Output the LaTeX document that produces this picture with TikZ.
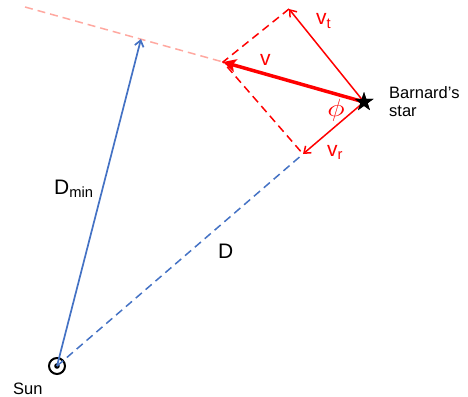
\documentclass[tikz,border=0pt]{standalone}
\usepackage{fontspec}
\setmainfont{Liberation Sans}
\usetikzlibrary{shapes.geometric, arrows.meta, positioning}
\definecolor{skyblue}{RGB}{68,114,196}
\definecolor{salmon}{RGB}{255,168,160}

\begin{document}
\begin{tikzpicture}[
    x=1pt, y=-1pt,
    bigfont/.style={font=\fontsize{21}{24}\selectfont, inner sep=0pt},
    smallfont/.style={font=\fontsize{16.5}{18}\selectfont, inner sep=0pt},
    sunmark/.style={circle, draw, line width=2pt, minimum size=16pt,
                    inner sep=0pt},
    starmark/.style={star, star points=5, star point ratio=2.6, fill=black,
                     minimum size=20pt, inner sep=0pt},
    thin/.style={-{Straight Barb[length=6pt, width=9pt]}, line width=1.5pt},
    fat/.style={-{Stealth[length=13pt, width=13pt, inset=3pt]},
                line width=3.5pt},
    dashline/.style={dash pattern=on 8pt off 5pt, line width=1.5pt}
  ]

  \useasboundingbox (0,0) rectangle (468,396);

  \node[sunmark]  (sun)  at (57,366) {};
  \fill (sun.center) circle (2.8pt);
  \node[starmark] (star) at (364,102) {};

  \coordinate (far)    at (25,7);
  \coordinate (vtip)   at (223,62);
  \coordinate (vttip)  at (289,9);
  \coordinate (vrtip)  at (303,154);
  \coordinate (dmtip)  at (141,39);

  % line of sight and closest approach
  \draw[dashline, salmon]  (far) -- (vtip);
  \draw[dashline, skyblue] (sun.center) -- (vrtip);
  \draw[thin, skyblue, line width=1.7pt] (sun.center) -- (dmtip);

  % velocity components
  \draw[dashline, red] (vttip) -- (vtip) -- (vrtip);
  \draw[thin, red] (star.center) -- (vttip);
  \draw[thin, red] (star.center) -- (vrtip);
  \draw[fat, red]  (star.center) -- (vtip);
  \node[starmark] at (star) {};

  \node[bigfont, red, anchor=base west] (vlab)  at (260,65)  {v};
  \node[bigfont, red, anchor=base west] (vtlab) at (316,25)  {v\textsubscript{t}};
  \node[bigfont, red, anchor=base west] (vrlab) at (327,156) {v\textsubscript{r}};
  \node[red, font=\fontsize{30}{32}\selectfont, inner sep=0pt] (philab)
    at (336,110) {\scalebox{1.2}[1]{$\phi$}};
  \node[bigfont, anchor=base west] (dlab)  at (218,258) {D};
  \node[bigfont, anchor=base west] (dmlab) at (54,194)  {D\textsubscript{min}};
  \node[smallfont, anchor=west, align=left] (starlab) at (389,102)
    {Barnard’s\\star};
  \node[smallfont, anchor=base west] (sunlab) at (13,394) {Sun};

\end{tikzpicture}
\end{document}
